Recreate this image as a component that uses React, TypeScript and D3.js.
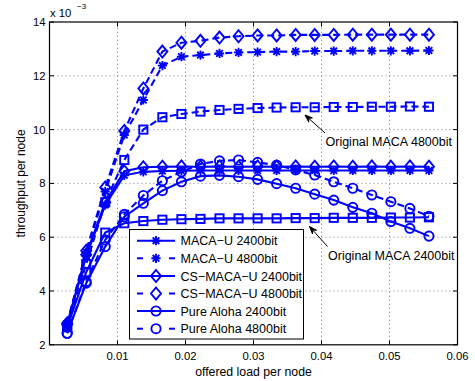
import React from "react";
import * as d3 from "d3";

const loads = [0.0026, 0.0054, 0.0082, 0.011, 0.0138, 0.0166, 0.0194, 0.0222, 0.025, 0.0278, 0.0306, 0.0334, 0.0362, 0.039, 0.0418, 0.0446, 0.0474, 0.0502, 0.053, 0.0558];

const macaU2400 = [2.75, 5.3, 7.2, 8.3, 8.43, 8.46, 8.47, 8.48, 8.48, 8.48, 8.48, 8.48, 8.48, 8.48, 8.48, 8.48, 8.48, 8.48, 8.48, 8.48];
const macaU4800 = [2.8, 5.45, 7.7, 9.8, 11.1, 12.38, 12.71, 12.77, 12.83, 12.87, 12.88, 12.9, 12.9, 12.92, 12.92, 12.93, 12.93, 12.93, 12.93, 12.94];
const csMacaU2400 = [2.75, 5.35, 7.3, 8.45, 8.6, 8.62, 8.63, 8.62, 8.63, 8.62, 8.63, 8.62, 8.63, 8.62, 8.63, 8.62, 8.63, 8.62, 8.63, 8.62];
const csMacaU4800 = [2.8, 5.5, 7.85, 9.95, 11.53, 12.9, 13.23, 13.3, 13.42, 13.47, 13.5, 13.5, 13.52, 13.52, 13.52, 13.53, 13.53, 13.53, 13.53, 13.53];
const aloha2400 = [2.43, 4.29, 5.65, 6.76, 7.26, 7.73, 8.06, 8.27, 8.3, 8.25, 8.15, 7.99, 7.82, 7.6, 7.38, 7.11, 6.89, 6.58, 6.33, 6.04];
const aloha4800 = [2.43, 4.35, 5.9, 6.85, 7.55, 8.1, 8.43, 8.72, 8.84, 8.87, 8.78, 8.68, 8.5, 8.31, 8.06, 7.82, 7.57, 7.32, 7.07, 6.78];
const origMaca2400 = [2.65, 4.7, 6.17, 6.52, 6.6, 6.65, 6.67, 6.68, 6.7, 6.7, 6.7, 6.7, 6.71, 6.71, 6.72, 6.72, 6.72, 6.73, 6.73, 6.74];
const origMaca4800 = [2.7, 5.0, 7.3, 8.87, 10.0, 10.46, 10.58, 10.67, 10.73, 10.77, 10.8, 10.82, 10.83, 10.83, 10.84, 10.84, 10.85, 10.85, 10.86, 10.85];

const xTicks = [0.01, 0.02, 0.03, 0.04, 0.05, 0.06];
const xTickLabels = ["0.01", "0.02", "0.03", "0.04", "0.05", "0.06"];
const yTicks = [2, 4, 6, 8, 10, 12, 14];

const seriesNames = ["MACA\u2212U 2400bit", "MACA\u2212U 4800bit", "CS\u2212MACA\u2212U 2400bit", "CS\u2212MACA\u2212U 4800bit", "Pure Aloha 2400bit", "Pure Aloha 4800bit"];

type Series = { name: string; values: number[]; dashed: boolean; marker: string; legend: boolean };

const series: Series[] = [
  { name: seriesNames[0], values: macaU2400, dashed: false, marker: "star", legend: true },
  { name: seriesNames[1], values: macaU4800, dashed: true, marker: "star", legend: true },
  { name: seriesNames[2], values: csMacaU2400, dashed: false, marker: "diamond", legend: true },
  { name: seriesNames[3], values: csMacaU4800, dashed: true, marker: "diamond", legend: true },
  { name: seriesNames[4], values: aloha2400, dashed: false, marker: "circle", legend: true },
  { name: seriesNames[5], values: aloha4800, dashed: true, marker: "circle", legend: true },
  { name: "Original MACA 2400bit", values: origMaca2400, dashed: false, marker: "square", legend: false },
  { name: "Original MACA 4800bit", values: origMaca4800, dashed: true, marker: "square", legend: false },
];

const BLUE = "#0000ff";
const FONT = "'Liberation Sans', Arial, Helvetica, sans-serif";

function Marker({ type, cx, cy }: { type: string; cx: number; cy: number }) {
  const sw = 1.9;
  if (type === "star") {
    const r = 4.6;
    const d = r * 0.72;
    return (
      <path
        d={`M${cx - r},${cy}L${cx + r},${cy}M${cx},${cy - r}L${cx},${cy + r}M${cx - d},${cy - d}L${cx + d},${cy + d}M${cx - d},${cy + d}L${cx + d},${cy - d}`}
        stroke={BLUE}
        strokeWidth={sw}
        fill="none"
      />
    );
  }
  if (type === "diamond") {
    const w = 5, h = 6;
    return (
      <path d={`M${cx},${cy - h}L${cx + w},${cy}L${cx},${cy + h}L${cx - w},${cy}Z`} stroke={BLUE} strokeWidth={sw} fill="none" />
    );
  }
  if (type === "circle") {
    return <circle cx={cx} cy={cy} r={4.6} stroke={BLUE} strokeWidth={sw} fill="none" />;
  }
  const s = 4.1;
  return <rect x={cx - s} y={cy - s} width={2 * s} height={2 * s} stroke={BLUE} strokeWidth={sw} fill="none" />;
}

export default function App() {
  const W = 475, H = 381;
  const x = d3.scaleLinear().domain([0, 0.06]).range([49.5, 457.5]);
  const y = d3.scaleLinear().domain([2, 14]).range([344.8, 22]);
  const x0 = x(0), x1 = x(0.06), y0 = y(2), y1 = y(14);
  const line = d3.line<number>().x((_, i) => x(loads[i])).y((v) => y(v));
  const tickLen = 4.5;

  const legendX = 129.5, legendY = 229.5, legendW = 174, legendH = 109.5;
  const legendRows = [240.7, 258.3, 276, 293.5, 311, 328.7];

  return (
    <svg width={W} height={H} style={{ position: "absolute", left: 0, top: 0, background: "#fff" }} fontFamily={FONT}>
      <rect x={0} y={0} width={W} height={H} fill="#fff" />
      {/* grid */}
      <g stroke="#000" strokeWidth={0.7} strokeDasharray="1,3" opacity={0.7}>
        {xTicks.slice(0, -1).map((t) => (
          <line key={"gx" + t} x1={x(t)} x2={x(t)} y1={y0} y2={y1} />
        ))}
        {yTicks.slice(1, -1).map((t) => (
          <line key={"gy" + t} x1={x0} x2={x1} y1={y(t)} y2={y(t)} />
        ))}
      </g>
      {/* ticks */}
      <g stroke="#000" strokeWidth={1}>
        {xTicks.map((t) => (
          <g key={"tx" + t}>
            <line x1={x(t)} x2={x(t)} y1={y0} y2={y0 - tickLen} />
            <line x1={x(t)} x2={x(t)} y1={y1} y2={y1 + tickLen} />
          </g>
        ))}
        {yTicks.map((t) => (
          <g key={"ty" + t}>
            <line x1={x0} x2={x0 + tickLen} y1={y(t)} y2={y(t)} />
            <line x1={x1} x2={x1 - tickLen} y1={y(t)} y2={y(t)} />
          </g>
        ))}
      </g>
      {/* series lines */}
      {series.map((s) => (
        <path
          key={"l" + s.name}
          d={line(s.values) || ""}
          fill="none"
          stroke={BLUE}
          strokeWidth={2.1}
          strokeDasharray={s.dashed ? "7,4" : undefined}
        />
      ))}
      {/* markers */}
      {series.map((s) => (
        <g key={"m" + s.name}>
          {s.values.map((v, i) => (
            <Marker key={i} type={s.marker} cx={x(loads[i])} cy={y(v)} />
          ))}
        </g>
      ))}
      {/* axes box */}
      <rect x={x0} y={y1} width={x1 - x0} height={y0 - y1} fill="none" stroke="#000" strokeWidth={1.2} />
      {/* tick labels */}
      <g fontSize={11.3} fill="#000">
        {xTicks.map((t, i) => (
          <text key={"xl" + t} x={x(t)} y={360} textAnchor="middle">
            {xTickLabels[i]}
          </text>
        ))}
        {yTicks.map((t) => (
          <text key={"yl" + t} x={45.5} y={y(t) + 4} textAnchor="end">
            {t}
          </text>
        ))}
      </g>
      {/* exponent */}
      <text x={50} y={16.5} fontSize={11.3} fill="#000">
        x 10
      </text>
      <text x={77} y={9} fontSize={8} fill="#000">
        {"\u22123"}
      </text>
      {/* axis labels */}
      <text x={(x0 + x1) / 2} y={375.5} fontSize={12.3} textAnchor="middle" fill="#000">
        offered load per node
      </text>
      <text transform={`translate(25,${(y0 + y1) / 2}) rotate(-90)`} fontSize={12} textAnchor="middle" fill="#000">
        throughput per node
      </text>
      {/* annotations */}
      <g stroke="#000" strokeWidth={1} fill="#000">
        <line x1={325} y1={133} x2={305} y2={115} />
        <path d={arrowHead(325, 133, 305, 115)} />
        <line x1={327.5} y1={246.5} x2={309.5} y2={226.5} />
        <path d={arrowHead(327.5, 246.5, 309.5, 226.5)} />
      </g>
      <text x={325.5} y={146} fontSize={12.5} fill="#000">
        Original MACA 4800bit
      </text>
      <text x={328} y={259.5} fontSize={12.5} fill="#000">
        Original MACA 2400bit
      </text>
      {/* legend */}
      <rect x={legendX} y={legendY} width={legendW} height={legendH} fill="#fff" stroke="#000" strokeWidth={1} />
      {series.filter((s) => s.legend).map((s, i) => {
        const ly = legendRows[i];
        return (
          <g key={"lg" + s.name}>
            {s.dashed ? (
              <g stroke={BLUE} strokeWidth={2}>
                <line x1={137} x2={143} y1={ly} y2={ly} />
                <line x1={169} x2={175} y1={ly} y2={ly} />
              </g>
            ) : (
              <line x1={137} x2={175} y1={ly} y2={ly} stroke={BLUE} strokeWidth={2} />
            )}
            <Marker type={s.marker} cx={156} cy={ly} />
            <text x={180.5} y={ly + 4.5} fontSize={12.5} fill="#000">
              {s.name}
            </text>
          </g>
        );
      })}
    </svg>
  );
}

function arrowHead(tx: number, ty: number, hx: number, hy: number): string {
  const ang = Math.atan2(hy - ty, hx - tx);
  const len = 8, half = 0.35;
  const ax = hx - len * Math.cos(ang - half), ay = hy - len * Math.sin(ang - half);
  const bx = hx - len * Math.cos(ang + half), by = hy - len * Math.sin(ang + half);
  const mx = hx - len * 0.6 * Math.cos(ang), my = hy - len * 0.6 * Math.sin(ang);
  return `M${hx},${hy}L${ax},${ay}L${mx},${my}L${bx},${by}Z`;
}
